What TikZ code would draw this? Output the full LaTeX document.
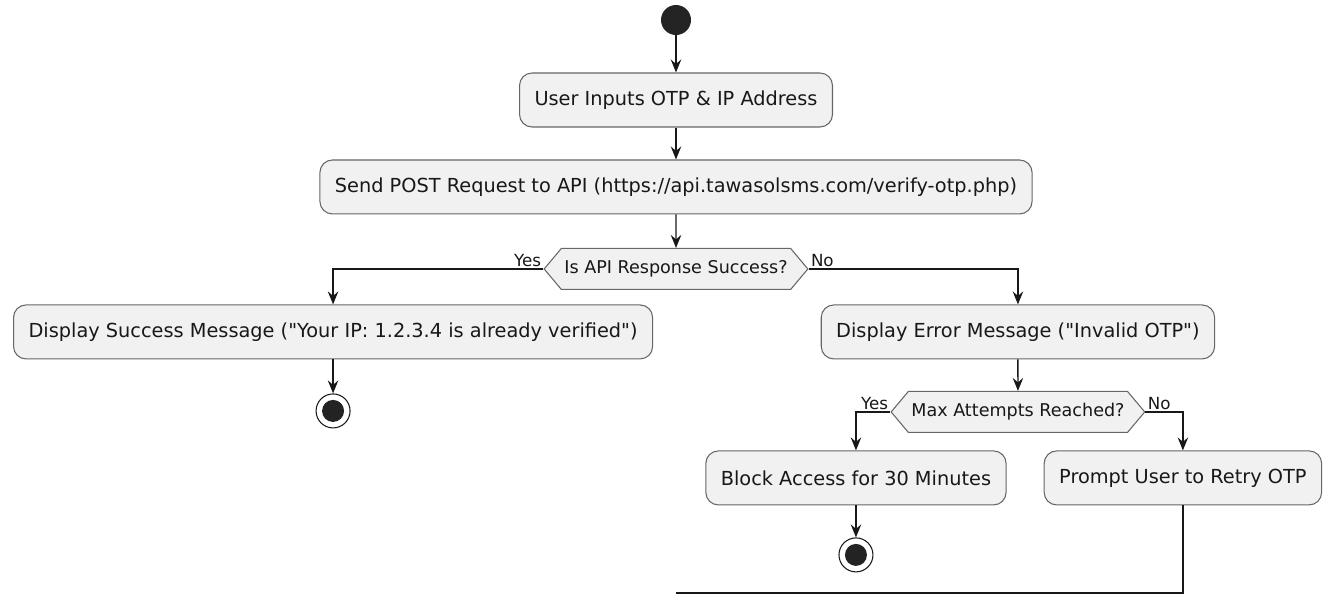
\documentclass[tikz,border=0pt]{standalone}
\usepackage{fontspec}
\setmainfont{DejaVu Sans}[Ligatures=TeXOff]
\usetikzlibrary{shapes.geometric, shapes.symbols, arrows, arrows.meta, positioning}
\definecolor{actFill}{HTML}{F1F1F1}
\definecolor{actLine}{HTML}{181818}
\tikzstyle{actNode} = [rectangle, minimum height=1.08cm, inner xsep=0.3cm, text centered, rounded corners=0.25cm, draw=black!60, line width=0.6pt, fill=actFill, text=actLine, font=\fontsize{11}{13}\selectfont]
\tikzstyle{decNode} = [signal, signal to=west and east, signal pointer angle=100, minimum height=0.82cm, inner xsep=0.06cm, draw=black!60, line width=0.6pt, fill=actFill, text=actLine, font=\fontsize{10}{12}\selectfont]
\tikzstyle{startNode} = [circle, fill=actLine!95, minimum size=0.6cm, inner sep=0pt]
\tikzstyle{endNode} = [circle, draw=actLine, line width=0.6pt, fill=white, minimum size=0.68cm, inner sep=0pt, path picture={\fill[actLine!95] (path picture bounding box.center) circle (0.22cm);}]
\tikzstyle{eNode} = [font=\fontsize{9.5}{11}\selectfont, text=actLine, inner sep=1pt]
\tikzstyle{arrow} = [thick,->,>={Stealth[length=0.26cm, width=0.21cm, inset=0.09cm]},draw=actLine]
\tikzstyle{line} = [thick,draw=actLine]

\begin{document}
\begin{tikzpicture}[node distance=1.7cm, x=0.02cm, y=-0.02cm]
        \useasboundingbox (0,0) rectangle (1326,596);
        \node (start) [startNode] at (676,20) {};
        \node (inputs) [actNode, below of=start, yshift=0.1cm] {User Inputs OTP \& IP Address};
        \node (request) [actNode, below of=inputs, yshift=-0.04cm] 
            {Send POST Request to API (https://api.tawasolsms.com/verify-otp.php)};
        \node (check) [decNode, below of=request, yshift=0.06cm] {Is API Response Success?};
        \node (success) [actNode, below of=check, xshift=-6.86cm, yshift=0.44cm] 
            {Display Success Message ("Your IP: 1.2.3.4 is already verified")};
        \node (error) [actNode, below of=check, xshift=6.84cm, yshift=0.44cm] 
            {Display Error Message ("Invalid OTP")};
        \node (end1) [endNode, below of=success, yshift=0.12cm] {};
        \node (attempts) [decNode, below of=error, yshift=0.1cm] {Max Attempts Reached?};
        \node (block) [actNode, below of=attempts, xshift=-3.24cm, yshift=0.38cm] {Block Access for 30 Minutes};
        \node (retry) [actNode, below of=attempts, xshift=3.3cm, yshift=0.38cm] {Prompt User to Retry OTP};
        \node (end2) [endNode, below of=block, yshift=0.16cm] {};
        \coordinate (merge) at (676,593);
        
        \draw [arrow] (start) -- (inputs);
        \draw [arrow] (inputs) -- (request);
        \draw [arrow] (request) -- (check);
        \draw [arrow] (check.west) -| node[eNode, pos=0, above left] {Yes} (success);
        \draw [arrow] (check.east) -| node[eNode, pos=0, above right] {No} (error);
        \draw [arrow] (success) -- (end1);
        \draw [arrow] (error) -- (attempts);
        \draw [arrow] (attempts.west) -| node[eNode, pos=0, above left] {Yes} (block);
        \draw [arrow] (attempts.east) -| node[eNode, pos=0, above right] {No} (retry);
        \draw [arrow] (block) -- (end2);
        
        \draw [line] (retry) |- (merge);
        
    \end{tikzpicture}
\end{document}
